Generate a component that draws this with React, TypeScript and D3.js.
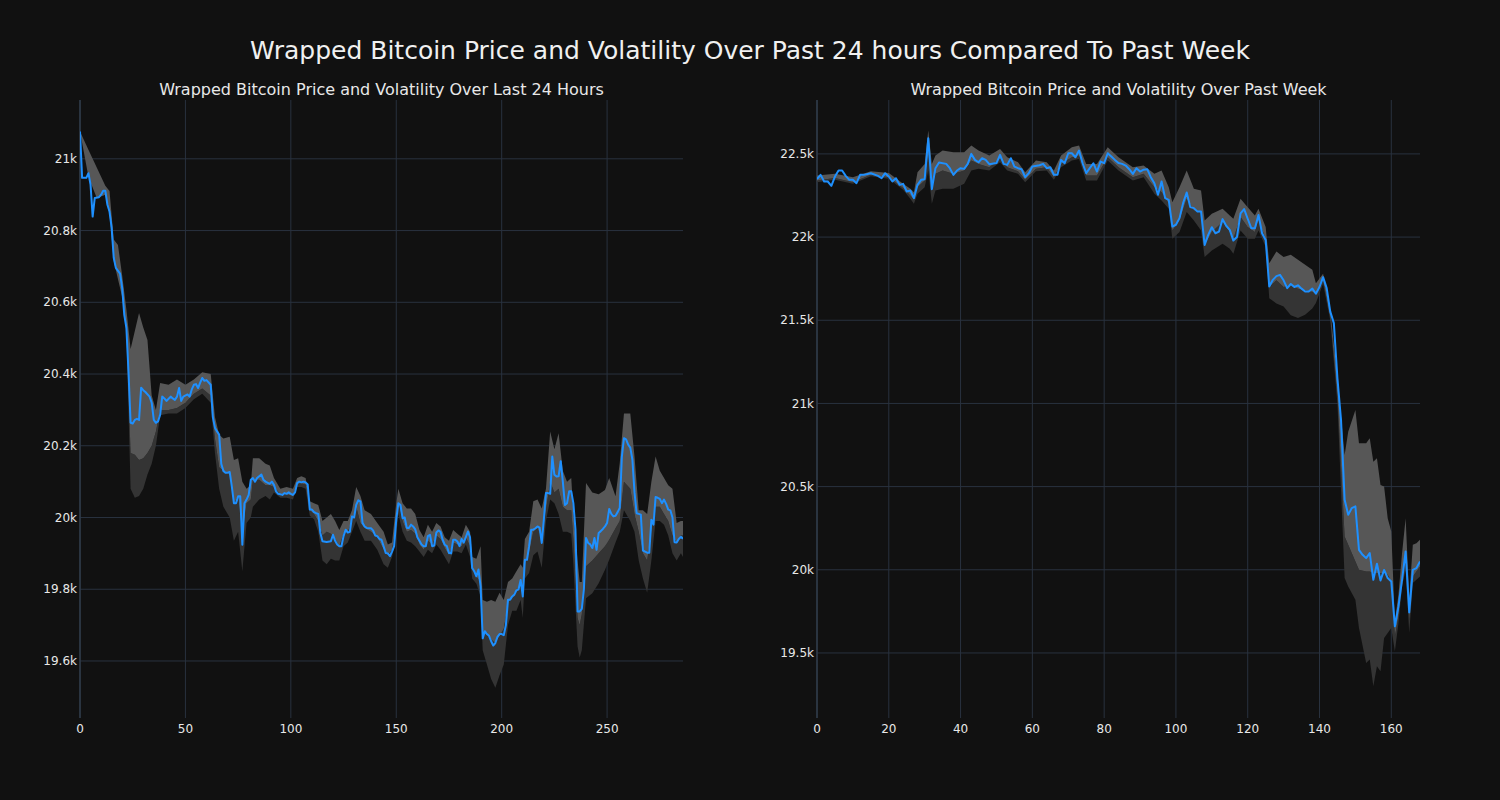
import React from 'react';
import * as d3 from 'd3';

// ---------- Left panel: last 24 hours (5-minute steps) ----------
const leftIdx = [0,1,3,4,5,6,7,9,10,11,12,13,14,15,16,17,19,20,21,22,23,24,25,26,27,28,29,30,31,33,34,35,36,37,38,39,40,41,43,44,45,46,47,48,49,51,52,53,54,55,56,57,58,59,60,62,63,64,65,66,67,68,69,70,71,72,73,74,75,76,77,78,79,80,81,82,83,84,85,86,87,88,90,91,92,93,94,96,97,98,99,100,101,102,103,104,105,106,107,108,109,110,111,112,113,114,115,117,119,120,121,122,123,124,125,126,127,128,129,130,131,132,133,134,135,136,138,139,140,141,142,143,144,145,146,147,148,149,150,151,152,153,154,155,156,157,158,159,160,161,162,163,164,165,166,167,168,169,170,171,172,173,174,175,176,177,178,179,180,181,182,183,184,185,186,187,188,189,190,191,192,193,194,195,196,197,198,199,200,201,202,203,204,205,206,207,208,209,210,211,212,213,214,215,216,217,218,219,220,221,222,223,224,225,226,227,228,229,230,231,232,233,234,235,236,237,238,239,240,241,242,243,244,245,246,247,248,249,250,251,252,253,254,255,256,257,258,259,260,261,262,263,264,265,266,267,268,269,270,271,272,273,274,275,276,277,278,279,280,281,282,283,284,285,286];
const leftPrice = [21076,20947,20947,20960,20928,20839,20891,20893,20900,20911,20911,20872,20853,20808,20724,20696,20680,20640,20565,20529,20406,20264,20262,20272,20275,20272,20362,20355,20350,20337,20320,20272,20264,20268,20286,20337,20332,20325,20337,20332,20328,20337,20361,20325,20337,20343,20337,20357,20370,20372,20361,20376,20389,20381,20383,20370,20280,20250,20240,20231,20150,20130,20125,20125,20127,20087,20040,20040,20059,20059,19924,20040,20050,20063,20105,20110,20100,20110,20115,20120,20105,20100,20094,20100,20091,20073,20066,20063,20068,20066,20070,20066,20063,20070,20096,20100,20098,20100,20098,20092,20022,20022,20015,20012,20010,19957,19934,19932,19934,19952,19935,19925,19920,19920,19948,19966,19958,19960,20003,20000,20035,20048,20045,19985,19975,19971,19970,19964,19950,19948,19940,19938,19920,19901,19900,19892,19905,19920,19994,20040,20035,19998,20000,19971,19971,19980,19975,19967,19945,19935,19925,19920,19920,19948,19952,19920,19922,19958,19964,19960,19938,19924,19920,19901,19900,19938,19938,19933,19920,19940,19930,19945,19961,19945,19859,19850,19836,19855,19808,19663,19683,19675,19670,19655,19643,19650,19667,19675,19675,19672,19700,19771,19771,19780,19785,19797,19800,19826,19780,19882,19882,19920,19966,19966,19970,19975,19972,19929,19994,20068,20068,20066,20170,20119,20114,20115,20157,20100,20035,20040,20073,20073,20040,19966,19738,19738,19745,19800,19943,19929,19925,19915,19943,19910,19957,19962,19968,19975,19985,20024,20010,20003,20005,20015,20027,20170,20221,20218,20203,20195,20161,20070,20012,20010,20008,19908,19905,19902,19902,19994,19980,20057,20055,20052,20040,20050,20038,20022,20020,20000,19931,19930,19940,19946,19941];

const leftBandIdx = [0,4,8,12,14,16,18,20,22,24,26,28,30,32,34,36,38,42,46,50,54,58,62,64,66,68,71,73,75,77,79,81,82,85,88,90,92,95,98,101,103,105,107,109,111,113,115,117,119,121,123,125,127,129,131,133,135,138,141,144,146,148,150,151,153,155,157,159,161,163,165,167,169,171,173,175,177,179,181,183,185,186,188,190,191,193,195,197,199,201,203,205,207,209,210,211,213,215,217,219,221,223,225,227,229,231,233,234,236,237,238,240,243,246,249,251,254,256,258,261,263,265,267,269,271,273,275,277,279,281,283,285,286];
const leftBandHi = [21076,21025,20975,20925,20910,20775,20760,20675,20580,20470,20520,20570,20530,20495,20340,20300,20375,20370,20385,20370,20385,20405,20400,20280,20231,20220,20225,20160,20165,20100,20080,20090,20165,20165,20150,20145,20110,20080,20085,20080,20110,20115,20110,20045,20040,20035,19990,20000,20010,19990,19965,19990,19990,20020,20085,20060,20020,20010,19985,19960,19925,19930,20040,20080,20040,20025,20025,20010,19965,19945,19980,19960,19985,19975,19945,19935,19965,19955,19945,19980,19960,19890,19885,19920,19770,19765,19770,19765,19790,19770,19820,19830,19850,19870,19860,19940,19960,20045,20050,20025,20080,20240,20190,20235,20130,20100,20110,20010,19880,19820,19820,20096,20070,20065,20077,20110,20059,20152,20290,20290,20170,20020,20020,20010,20100,20170,20130,20110,20090,20080,19985,19990,19990];
const leftBandMid = [21076,20950,20890,20900,20845,20715,20665,20615,20515,20180,20175,20160,20165,20180,20200,20240,20300,20300,20305,20320,20345,20360,20340,20220,20140,20130,20120,20040,20060,19950,20040,20050,20105,20105,20090,20090,20085,20065,20065,20060,20095,20095,20092,20020,20010,19990,19950,19960,19955,19940,19920,19955,19960,19990,20030,19985,19970,19960,19945,19910,19895,19910,19980,20040,19990,19960,19965,19955,19925,19910,19935,19925,19950,19940,19915,19895,19930,19925,19920,19945,19920,19855,19835,19820,19680,19680,19660,19650,19670,19690,19760,19780,19800,19810,19780,19870,19900,19960,19970,19940,20020,20100,20070,20080,20030,20020,20020,19940,19720,19700,19730,19864,19880,19900,19920,19938,19970,19990,20100,20080,20010,19960,19900,19880,19960,20030,20030,20010,19990,19950,19930,19950,19950];
const leftBandLo = [21076,20950,20890,20900,20845,20715,20665,20615,20515,20080,20055,20060,20080,20120,20150,20200,20285,20290,20290,20305,20330,20345,20320,20180,20080,20030,20000,19935,19960,19850,19985,20000,20030,20050,20060,20050,20070,20055,20055,20050,20085,20085,20080,20005,19995,19960,19880,19870,19885,19880,19880,19920,19930,19960,19990,19960,19935,19935,19910,19870,19860,19890,19950,20010,19960,19935,19930,19920,19905,19890,19910,19900,19925,19910,19890,19870,19905,19905,19900,19925,19890,19830,19815,19780,19630,19590,19550,19525,19560,19590,19700,19740,19740,19770,19720,19830,19845,19895,19905,19860,19990,20050,20040,20010,19960,19960,19955,19870,19640,19610,19630,19775,19789,19817,19854,19882,19930,19960,20020,19990,19960,19880,19830,19790,19880,19990,19990,19980,19950,19900,19880,19900,19890];

const leftXTicks = [0, 50, 100, 150, 200, 250];
const leftYTicks = [19600, 19800, 20000, 20200, 20400, 20600, 20800, 21000];

// ---------- Right panel: past week (hourly steps) ----------
const rightIdx = [0,1,2,3,4,5,6,7,8,9,10,11,12,13,15,17,18,19,20,21,22,23,24,25,26,27,28,29,30,31,32,33,34,36,37,38,39,40,41,42,43,44,45,46,47,48,50,51,52,53,54,55,56,57,58,59,60,62,63,64,65,66,67,68,69,70,71,72,73,74,75,76,77,78,79,80,81,82,83,84,85,86,87,88,89,90,91,92,93,94,95,96,97,98,99,100,101,102,103,104,105,106,107,108,109,110,111,112,113,114,115,116,117,118,119,120,121,122,123,124,125,126,127,128,129,130,131,132,133,134,135,136,137,138,139,140,141,142,143,144,145,146,147,148,149,150,151,152,153,154,155,156,157,158,159,160,161,162,163,164,165,166,167,168];
const rightPrice = [22348,22374,22334,22334,22308,22364,22400,22400,22368,22344,22344,22324,22374,22374,22384,22368,22354,22384,22364,22334,22354,22314,22320,22274,22280,22234,22314,22344,22348,22594,22288,22414,22448,22440,22414,22374,22400,22414,22410,22440,22500,22464,22450,22474,22464,22438,22445,22494,22440,22434,22474,22424,22414,22408,22360,22384,22424,22432,22440,22414,22420,22374,22374,22464,22444,22504,22504,22480,22520,22444,22384,22414,22444,22394,22454,22444,22504,22484,22464,22445,22440,22430,22408,22380,22414,22394,22405,22408,22360,22324,22254,22334,22234,22224,22063,22074,22114,22204,22268,22180,22174,22153,22153,21953,22013,22059,22023,22033,22108,22068,22043,21979,22000,22143,22168,22110,22053,22053,22133,22023,21983,21703,21743,21765,21773,21740,21693,21718,21700,21710,21690,21673,21673,21690,21659,21700,21759,21693,21552,21483,21150,20900,20421,20331,20371,20381,20120,20090,20070,20100,19940,20036,19936,19999,19950,19930,19660,19780,19940,20110,19744,19999,20010,20050];

const rightBandIdx = [0,5,10,15,20,24,26,27,28,30,31,32,33,35,38,41,43,45,48,51,53,56,58,61,64,66,68,71,73,75,78,81,84,88,91,94,96,98,99,101,103,105,107,108,110,113,115,116,118,120,122,123,125,126,128,130,132,134,136,138,139,141,143,145,147,148,150,151,153,154,155,156,157,158,159,160,161,162,163,164,165,166,167,168];
const rightBandHi = [22370,22380,22360,22395,22385,22320,22290,22270,22390,22440,22640,22440,22490,22520,22510,22510,22550,22520,22490,22530,22480,22450,22390,22460,22450,22400,22490,22540,22550,22440,22440,22540,22480,22420,22430,22380,22400,22300,22210,22300,22400,22290,22280,22100,22140,22170,22130,22110,22230,22180,22130,22170,22060,21843,21913,21880,21893,21863,21833,21803,21723,21780,21560,21150,20690,20830,20960,20760,20760,20790,20650,20670,20510,20500,20310,20230,19690,19850,20100,20310,19830,20150,20160,20180];
const rightBandMid = [22340,22355,22330,22375,22360,22295,22250,22225,22300,22340,22500,22290,22380,22400,22380,22400,22460,22440,22420,22470,22420,22395,22345,22410,22420,22360,22440,22480,22490,22370,22370,22480,22420,22360,22380,22300,22270,22200,22040,22100,22230,22160,22150,21950,22030,22090,22030,21990,22120,22060,22030,22100,21990,21700,21740,21700,21710,21690,21680,21670,21660,21740,21520,21050,20200,20150,20050,20000,19990,19990,19980,19980,19980,19980,19970,19930,19600,19720,19960,20050,19700,19960,19990,20020];
const rightBandLo = [22330,22345,22320,22365,22350,22285,22230,22200,22260,22300,22400,22200,22280,22290,22290,22320,22400,22410,22400,22450,22400,22380,22330,22395,22400,22345,22420,22460,22470,22340,22340,22460,22400,22340,22360,22260,22220,22170,21990,22030,22150,22100,22040,21880,21920,21960,21930,21900,22040,21990,21990,22040,21940,21633,21600,21583,21530,21513,21533,21570,21603,21720,21500,21000,19950,19900,19820,19650,19440,19460,19300,19420,19390,19590,19620,19650,19510,19680,19900,20000,19620,19920,19940,19960];

const rightXTicks = [0, 20, 40, 60, 80, 100, 120, 140, 160];
const rightYTicks = [19500, 20000, 20500, 21000, 21500, 22000, 22500];

const mainTitle = 'Wrapped Bitcoin Price and Volatility Over Past 24 hours Compared To Past Week';
const leftTitle = 'Wrapped Bitcoin Price and Volatility Over Last 24 Hours';
const rightTitle = 'Wrapped Bitcoin Price and Volatility Over Past Week';

const FONT = '"DejaVu Sans", sans-serif';
const BG = '#111111';
const GRID = '#29323f';
const TEXT = '#e8e8e8';
const LINE = '#1e90ff';
const LIGHT = '#575757';
const DARK = '#343434';

const fmtK = (v: number) => `${+(v / 1000).toFixed(1)}k`;

type PanelProps = {
  id: string;
  left: number;
  right: number;
  top: number;
  bottom: number;
  xDomain: [number, number];
  yDomain: [number, number];
  xTicks: number[];
  yTicks: number[];
  idx: number[];
  price: number[];
  bandIdx: number[];
  bandHi: number[];
  bandMid: number[];
  bandLo: number[];
  title: string;
};

function Panel(p: PanelProps) {
  const x = d3.scaleLinear().domain(p.xDomain).range([p.left, p.right]);
  const y = d3.scaleLinear().domain(p.yDomain).range([p.bottom, p.top]);

  const band = p.bandIdx.map((t, i) => ({ t, hi: p.bandHi[i], mid: p.bandMid[i], lo: p.bandLo[i] }));
  const upper = d3.area<any>().x((d) => x(d.t)).y0((d) => y(d.mid)).y1((d) => y(d.hi))(band) || '';
  const lower = d3.area<any>().x((d) => x(d.t)).y0((d) => y(d.lo)).y1((d) => y(d.mid))(band) || '';
  const pts = p.idx.map((t, i) => [t, p.price[i]] as [number, number]);
  const line = d3.line<[number, number]>().x((d) => x(d[0])).y((d) => y(d[1]))(pts) || '';

  return (
    <g>
      <defs>
        <clipPath id={`clip-${p.id}`}>
          <rect x={p.left} y={p.top} width={p.right - p.left} height={p.bottom - p.top} />
        </clipPath>
      </defs>
      {p.yTicks.map((v) => (
        <line key={`gy${v}`} x1={p.left} x2={p.right} y1={y(v)} y2={y(v)} stroke={GRID} strokeWidth={1} />
      ))}
      {p.xTicks.map((v) => (
        <line key={`gx${v}`} x1={x(v)} x2={x(v)} y1={p.top} y2={p.bottom} stroke={GRID} strokeWidth={1} />
      ))}
      <line x1={p.left} x2={p.left} y1={p.top} y2={p.bottom} stroke="#2f3b4a" strokeWidth={1.5} />
      <g clipPath={`url(#clip-${p.id})`}>
        <path d={lower} fill={DARK} />
        <path d={upper} fill={LIGHT} />
        <path d={line} fill="none" stroke={LINE} strokeWidth={2} strokeLinejoin="round" />
      </g>
      {p.yTicks.map((v) => (
        <text key={`ty${v}`} x={p.left - 3} y={y(v)} dy="0.35em" textAnchor="end" fontSize={12} fill={TEXT} fontFamily={FONT}>
          {fmtK(v)}
        </text>
      ))}
      {p.xTicks.map((v) => (
        <text key={`tx${v}`} x={x(v)} y={p.bottom + 15} textAnchor="middle" fontSize={12} fill={TEXT} fontFamily={FONT}>
          {v}
        </text>
      ))}
      <text x={(p.left + p.right) / 2} y={p.top - 5} textAnchor="middle" fontSize={16} fill={TEXT} fontFamily={FONT}>
        {p.title}
      </text>
    </g>
  );
}

export default function App() {
  return (
    <div style={{ position: 'fixed', left: 0, top: 0, width: 1500, height: 800, background: BG }}>
      <svg width={1500} height={800} style={{ display: 'block' }}>
        <rect x={0} y={0} width={1500} height={800} fill={BG} />
        <text x={750} y={59} textAnchor="middle" fontSize={25} fill="#f0f0f0" fontFamily={FONT}>
          {mainTitle}
        </text>
        <Panel
          id="left"
          left={80}
          right={683}
          top={100}
          bottom={718}
          xDomain={[0, 286]}
          yDomain={[19441, 21164]}
          xTicks={leftXTicks}
          yTicks={leftYTicks}
          idx={leftIdx}
          price={leftPrice}
          bandIdx={leftBandIdx}
          bandHi={leftBandHi}
          bandMid={leftBandMid}
          bandLo={leftBandLo}
          title={leftTitle}
        />
        <Panel
          id="right"
          left={817}
          right={1420}
          top={100}
          bottom={718}
          xDomain={[0, 168]}
          yDomain={[19109, 22824]}
          xTicks={rightXTicks}
          yTicks={rightYTicks}
          idx={rightIdx}
          price={rightPrice}
          bandIdx={rightBandIdx}
          bandHi={rightBandHi}
          bandMid={rightBandMid}
          bandLo={rightBandLo}
          title={rightTitle}
        />
      </svg>
    </div>
  );
}
